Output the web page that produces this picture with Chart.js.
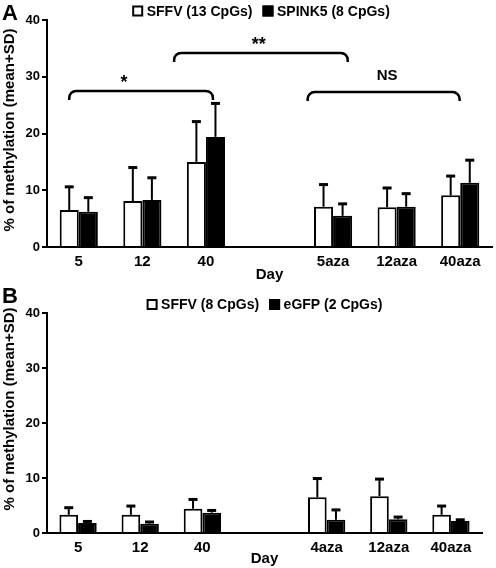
<!DOCTYPE html>
<html><head><meta charset="utf-8">
<script src="https://cdn.jsdelivr.net/npm/chart.js@4.4.1/dist/chart.umd.min.js"></script>
<style>
html,body{margin:0;padding:0;background:#fff;}
#wrap{position:relative;width:496px;height:568px;overflow:hidden;}
canvas{position:absolute;left:0;}
</style></head><body>
<div id="wrap">
<canvas id="cA" width="496" height="284" style="top:0"></canvas>
<canvas id="cB" width="496" height="284" style="top:284px"></canvas>
</div>
<script>
// ---------- data ----------
const categoriesA = ['5', '12', '40', '', '5aza', '12aza', '40aza'];
const categoriesB = ['5', '12', '40', '', '4aza', '12aza', '40aza'];
const yTicks = [0, 10, 20, 30, 40];

const seriesNamesA = ['SFFV (13 CpGs)', 'SPINK5 (8 CpGs)'];
const sffvA   = [6.5, 8.1, 15.0, null, 7.1, 7.0, 9.1];
const sffvASd = [4.1, 5.9, 7.1, null, 3.9, 3.4, 3.4];
const spink5A   = [6.2, 8.3, 19.4, null, 5.5, 7.1, 11.3];
const spink5ASd = [2.5, 3.9, 5.9, null, 2.1, 2.3, 4.0];

const seriesNamesB = ['SFFV (8 CpGs)', 'eGFP (2 CpGs)'];
const sffvB   = [3.3, 3.3, 4.4, null, 6.5, 6.7, 3.3];
const sffvBSd = [1.3, 1.6, 1.7, null, 3.4, 3.1, 1.6];
const egfpB   = [1.8, 1.7, 3.7, null, 2.4, 2.5, 2.2];
const egfpBSd = [0.3, 0.3, 0.4, null, 1.8, 0.4, 0.2];

// significance brackets (category index range, level in % units)
const bracketFrom  = [-0.15, 1.50, 3.60];
const bracketTo    = [2.11, 4.23, 5.99];
const bracketLevel = [27.5, 34.2, 27.3];
const bracketText  = ['*', '**', 'NS'];
const bracketTextX = [0.71, 2.83, 4.85];
const bracketTextY = [29.4, 36.1, 30.1];

const yTitle = '% of methylation (mean+SD)';

// ---------- drawing ----------
const FONT = "'Liberation Sans', Arial, Helvetica, sans-serif";

const errorBars = {
  id: 'errorBars',
  afterDatasetsDraw(chart) {
    const ctx = chart.ctx, ys = chart.scales.y;
    chart.data.datasets.forEach((ds, di) => {
      const meta = chart.getDatasetMeta(di);
      meta.data.forEach((el, i) => {
        const v = ds.data[i], sd = ds.sd[i];
        if (v == null || sd == null) return;
        const yt = ys.getPixelForValue(v + sd);
        ctx.save();
        ctx.strokeStyle = '#000';
        ctx.lineWidth = 2;
        ctx.beginPath(); ctx.moveTo(el.x, el.y); ctx.lineTo(el.x, yt); ctx.stroke();
        ctx.lineWidth = 3;
        ctx.beginPath(); ctx.moveTo(el.x - 4.5, yt); ctx.lineTo(el.x + 4.5, yt); ctx.stroke();
        ctx.restore();
      });
    });
  }
};

const decorations = {
  id: 'decorations',
  afterDraw(chart, args, opts) {
    const ctx = chart.ctx, xs = chart.scales.x, ys = chart.scales.y;
    ctx.save();
    // panel letter
    ctx.fillStyle = '#000';
    ctx.font = 'bold 22px ' + FONT;
    ctx.textAlign = 'left'; ctx.textBaseline = 'alphabetic';
    ctx.fillText(opts.letter, 2, opts.letterBase);
    // y-axis title
    ctx.save();
    ctx.font = 'bold 15px ' + FONT;
    ctx.textAlign = 'center'; ctx.textBaseline = 'middle';
    ctx.translate(opts.yTitleX, opts.yTitleCenter);
    ctx.rotate(-Math.PI / 2);
    ctx.fillText(yTitle, 0, 0);
    ctx.restore();
    // legend
    ctx.font = 'bold 14px ' + FONT;
    ctx.textAlign = 'left'; ctx.textBaseline = 'middle';
    const box = 11, gapT = 3.5, gapI = 10;
    const items = chart.data.datasets.map(d => ({t: d.label, w: ctx.measureText(d.label).width, fill: d.backgroundColor}));
    let total = 0;
    items.forEach((it, i) => { total += box + gapT + it.w + (i ? gapI : 0); });
    let x = opts.legendCenter - total / 2;
    const ly = opts.legendY;
    items.forEach((it, i) => {
      if (i) x += gapI;
      ctx.fillStyle = it.fill;
      ctx.fillRect(x, ly - box / 2, box, box);
      ctx.strokeStyle = '#000'; ctx.lineWidth = 2;
      ctx.strokeRect(x + 1, ly - box / 2 + 1, box - 2, box - 2);
      x += box + gapT;
      ctx.fillStyle = '#000';
      ctx.fillText(it.t, x, ly + 1);
      x += it.w;
    });
    // brackets
    (opts.brackets || []).forEach(b => {
      const x1 = xs.getPixelForValue(b.from), x2 = xs.getPixelForValue(b.to);
      const yTop = ys.getPixelForValue(b.level);
      const r = 7, hook = 9;
      ctx.strokeStyle = '#000'; ctx.lineWidth = 2.5; ctx.lineCap = 'butt';
      ctx.beginPath();
      ctx.moveTo(x1, yTop + hook);
      ctx.arcTo(x1, yTop, x1 + r, yTop, r);
      ctx.lineTo(x2 - r, yTop);
      ctx.arcTo(x2, yTop, x2, yTop + hook, r);
      ctx.lineTo(x2, yTop + hook);
      ctx.stroke();
      ctx.fillStyle = '#000';
      ctx.textAlign = 'center'; ctx.textBaseline = 'middle';
      const isStar = b.text.indexOf('*') >= 0;
      ctx.font = 'bold ' + (isStar ? 18 : 15) + 'px ' + FONT;
      const tx = xs.getPixelForValue(b.tx), ty = ys.getPixelForValue(b.ty);
      ctx.fillText(b.text, tx, ty + (isStar ? 3 : 0));
    });
    ctx.restore();
  }
};

function makeChart(id, cats, names, s1, s1sd, s2, s2sd, cfg) {
  const tickFontY = {family: FONT, weight: 'bold', size: 13};
  const tickFontX = {family: FONT, weight: 'bold', size: 15};
  const titleFont = {family: FONT, weight: 'bold', size: 15};
  return new Chart(document.getElementById(id), {
    type: 'bar',
    data: {
      labels: cats,
      datasets: [
        {label: names[0], data: s1, sd: s1sd, backgroundColor: '#ffffff', borderColor: '#000', borderWidth: 2},
        {label: names[1], data: s2, sd: s2sd, backgroundColor: '#000000', borderColor: '#000', borderWidth: 2}
      ]
    },
    options: {
      responsive: false, animation: false, devicePixelRatio: 1,
      categoryPercentage: 0.6, barPercentage: 1.0,
      layout: {padding: {left: 0, right: cfg.right, top: cfg.top, bottom: 0}},
      plugins: {
        legend: {display: false},
        tooltip: {enabled: false},
        decorations: cfg.deco
      },
      scales: {
        x: {
          grid: {display: false, drawTicks: false, tickLength: 0},
          border: {display: true, color: '#000', width: 2},
          ticks: {color: '#000', font: tickFontX, padding: 6, maxRotation: 0, autoSkip: false},
          title: {display: true, text: 'Day', color: '#000', font: titleFont, padding: {top: 0, bottom: 0}},
          afterFit(s) { s.height = cfg.xHeight; }
        },
        y: {
          min: 0, max: 40,
          afterBuildTicks(s) { s.ticks = yTicks.map(v => ({value: v})); },
          grid: {display: true, drawOnChartArea: false, drawTicks: true, tickLength: 5, color: '#000', lineWidth: 2},
          border: {display: true, color: '#000', width: 2},
          ticks: {color: '#000', font: tickFontY, padding: 2},
          title: {display: false},
          afterFit(s) { s.width = 47; }
        }
      }
    },
    plugins: [errorBars, decorations]
  });
}

const bracketsA = bracketText.map((t, i) => ({
  from: bracketFrom[i], to: bracketTo[i], level: bracketLevel[i],
  text: t, tx: bracketTextX[i], ty: bracketTextY[i]
}));

makeChart('cA', categoriesA, seriesNamesA, sffvA, sffvASd, spink5A, spink5ASd,
  {right: 4, top: 20, xHeight: 37,
   deco: {letter: 'A', letterBase: 20, legendCenter: 261, legendY: 11, yTitleX: 9.5, yTitleCenter: 130, brackets: bracketsA}});
makeChart('cB', categoriesB, seriesNamesB, sffvB, sffvBSd, egfpB, egfpBSd,
  {right: 14, top: 29, xHeight: 35,
   deco: {letter: 'B', letterBase: 19, legendCenter: 264.5, legendY: 20.5, yTitleX: 9.5, yTitleCenter: 125, brackets: []}});
</script>
</body></html>
